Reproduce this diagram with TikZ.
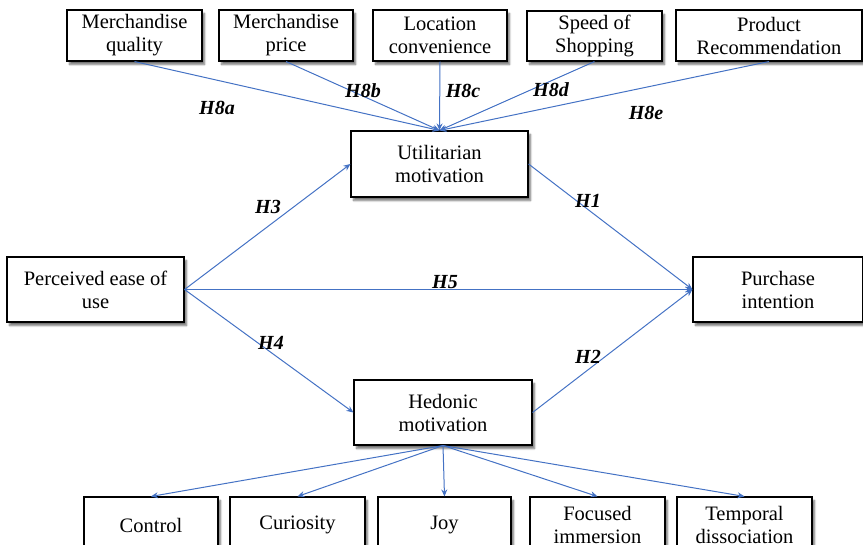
\documentclass[tikz,border=0pt]{standalone}
\usepackage{fontspec}
\setmainfont{Liberation Serif}
\usetikzlibrary{arrows.meta}
\usetikzlibrary{shadows.blur}
\definecolor{linkblue}{RGB}{68,114,196}

\begin{document}
\begin{tikzpicture}[x=1pt,y=-1pt,
	box/.style={draw,line width=1.1pt,fill=white,align=center,inner sep=0pt,
		blur shadow={shadow xshift=2.5pt,shadow yshift=-3.5pt,shadow opacity=55,shadow blur steps=6},
		font=\fontsize{20.5}{23}\selectfont},
	link/.style={draw=linkblue,line width=1pt,-{Stealth[length=7pt,width=6pt]}},
	hyp/.style={font=\fontsize{20}{23}\selectfont\bfseries\itshape}]
	\useasboundingbox (0,0) rectangle (863,545);

	% antecedents of utilitarian motivation
	\node[box,minimum width=135,minimum height=51] (quality) at (134.5,35.5) {Merchandise\\quality};
	\node[box,minimum width=134,minimum height=51] (price) at (286,35.5) {Merchandise\\price};
	\node[box,minimum width=134,minimum height=51] (location) at (440,35.5) {Location\\convenience};
	\node[box,minimum width=135,minimum height=50] (speed) at (594.5,36) {Speed of\\Shopping};
	\node[box,minimum width=186,minimum height=51] (recommend) at (769,35.5) {Product\\Recommendation};

	% core model
	\node[box,minimum width=177,minimum height=66] (util) at (439.5,164) {Utilitarian\\motivation};
	\node[box,minimum width=177,minimum height=65] (ease) at (95.5,289.5) {Perceived ease of\\use};
	\node[box,minimum width=170,minimum height=65] (purchase) at (778,289.5) {Purchase\\intention};
	\node[box,minimum width=178,minimum height=65] (hedonic) at (443,412.5) {Hedonic\\motivation};

	% dimensions of hedonic motivation
	\node[box,minimum width=134,minimum height=56] (control) at (151,525) {Control};
	\node[box,minimum width=135,minimum height=56] (curiosity) at (297.5,525) {Curiosity};
	\node[box,minimum width=133,minimum height=56] (joy) at (444.5,525) {Joy};
	\node[box,minimum width=135,minimum height=56] (focused) at (597.5,525) {Focused\\immersion};
	\node[box,minimum width=135,minimum height=56] (temporal) at (744.5,525) {Temporal\\dissociation};

	\draw[link] (quality.south) -- (util.north);
	\draw[link] (price.south) -- (util.north);
	\draw[link] (location.south) -- (util.north);
	\draw[link] (speed.south) -- (util.north);
	\draw[link] (recommend.south) -- (util.north);

	\draw[link] (ease.east) -- (util.west);
	\draw[link] (ease.east) -- (purchase.west);
	\draw[link] (ease.east) -- (hedonic.west);
	\draw[link] (util.east) -- (purchase.west);
	\draw[link] (hedonic.east) -- (purchase.west);

	\foreach \dim in {control,curiosity,joy,focused,temporal}
		\draw[link] (hedonic.south) -- (\dim.north);

	\node[hyp] (h8a) at (217,108) {H8a};
	\node[hyp] (h8b) at (363,91) {H8b};
	\node[hyp] (h8c) at (463,91) {H8c};
	\node[hyp] (h8d) at (551,90) {H8d};
	\node[hyp] (h8e) at (646,113) {H8e};
	\node[hyp] (h3) at (268,207) {H3};
	\node[hyp] (h1) at (588,201) {H1};
	\node[hyp] (h5) at (445,282) {H5};
	\node[hyp] (h4) at (271,343) {H4};
	\node[hyp] (h2) at (588,357) {H2};
\end{tikzpicture}
\end{document}
